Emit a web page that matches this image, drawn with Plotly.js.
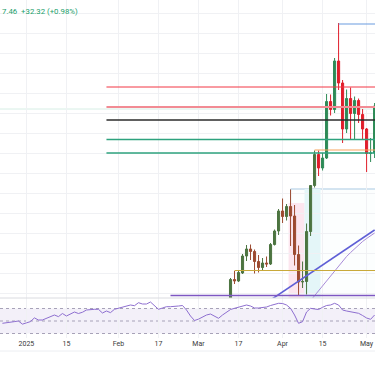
<!DOCTYPE html>
<html><head><meta charset="utf-8">
<script src="https://cdn.plot.ly/plotly-3.0.1.min.js"></script>
<style>html,body{margin:0;padding:0;background:#fff;overflow:hidden}#chart{width:375px;height:366px}</style>
</head><body><div id="chart"></div>
<script>
// trading days shown on the time axis
const dates = [
'2024-12-20','2024-12-23','2024-12-24','2024-12-26','2024-12-27','2024-12-30','2024-12-31',
'2025-01-02','2025-01-03','2025-01-06','2025-01-07','2025-01-08','2025-01-09','2025-01-10','2025-01-13','2025-01-14','2025-01-15','2025-01-16','2025-01-17','2025-01-20','2025-01-21','2025-01-22','2025-01-23','2025-01-24','2025-01-27','2025-01-28','2025-01-29','2025-01-30','2025-01-31',
'2025-02-03','2025-02-04','2025-02-05','2025-02-06','2025-02-07','2025-02-10','2025-02-11','2025-02-12','2025-02-13','2025-02-14','2025-02-17','2025-02-18','2025-02-19','2025-02-20','2025-02-21','2025-02-24','2025-02-25','2025-02-26','2025-02-27','2025-02-28',
'2025-03-03','2025-03-04','2025-03-05','2025-03-06','2025-03-07','2025-03-10','2025-03-11','2025-03-12','2025-03-13','2025-03-14','2025-03-17','2025-03-18','2025-03-19','2025-03-20','2025-03-21','2025-03-24','2025-03-25','2025-03-26','2025-03-27','2025-03-28','2025-03-31',
'2025-04-01','2025-04-02','2025-04-03','2025-04-04','2025-04-07','2025-04-08','2025-04-09','2025-04-10','2025-04-11','2025-04-14','2025-04-15','2025-04-16','2025-04-17','2025-04-21','2025-04-22','2025-04-23','2025-04-24','2025-04-25','2025-04-28','2025-04-29','2025-04-30',
'2025-05-01','2025-05-02','2025-05-05'];

// RSI(14)
const rsi = [
46.3,46.8,47.6,49,50,45,47,49,55,51.6,
51.6,54,57,59.6,57,62,58,61,64.4,62,
64,67.6,68.7,68.7,68.7,62.8,66,63.4,68.7,70.3,
71.6,74,75.6,74.5,79.3,77.2,77.2,80.4,74,68.7,
70.8,72.9,72.9,72.9,74,74.8,67.6,58,50.8,53,
56.9,59.6,61.2,58,54.3,59.6,64.4,68.4,70.3,72.4,
74,75.6,74,70.8,70.8,71.9,72.4,74.8,76.7,78.3,
78,75.6,70.3,59.6,46.3,48.9,64.4,70.3,69.2,68.4,
71.9,74.8,75.6,78.3,75.6,67.6,66,64.9,64.4,62.3,
58.8,54.8,52.7,59.6];

// daily candles, first leg (Mar 13 - Apr 11)
const candleDatesA = ['2025-03-13','2025-03-14','2025-03-17','2025-03-18','2025-03-19','2025-03-20','2025-03-21','2025-03-24','2025-03-25','2025-03-26','2025-03-27','2025-03-28','2025-03-31',
'2025-04-01','2025-04-02','2025-04-03','2025-04-04','2025-04-07','2025-04-08','2025-04-09','2025-04-10','2025-04-11'];
const openA  = [2934,2987,2984,3000,3034,3048,3043,3023,3011,3020,3018,3057,3084, 3124,3113,3133,3114,3037,2982,2983,3083,3175];
const highA  = [2990,3004,3004,3038,3056,3057,3047,3036,3030,3033,3060,3087,3128, 3149,3138,3167,3136,3055,3023,3099,3176,3245];
const lowA   = [2930,2978,2982,2998,3024,3026,2999,3001,3005,3012,3016,3055,3076, 3100,3105,3054,3015,2956,2970,2957,3074,3171];
const closeA = [2987,2984,3001,3034,3048,3043,3023,3011,3020,3018,3057,3084,3124, 3113,3133,3114,3037,2982,2983,3083,3175,3237];
// daily candles, second leg (Apr 14 - May 5)
const candleDatesB = ['2025-04-14','2025-04-15','2025-04-16','2025-04-17','2025-04-21','2025-04-22','2025-04-23','2025-04-24','2025-04-25','2025-04-28','2025-04-29','2025-04-30','2025-05-01','2025-05-02','2025-05-05'];
const openB  = [3237,3210,3230,3343,3327,3424,3380,3288,3349,3319,3345,3317,3288,3239,3240];
const highB  = [3245,3240,3358,3357,3430,3500,3386,3367,3371,3353,3349,3328,3290,3270,3340];
const lowB   = [3194,3205,3228,3315,3320,3366,3260,3280,3266,3268,3300,3268,3202,3222,3230];
const closeB = [3210,3230,3343,3327,3424,3380,3288,3349,3319,3345,3317,3288,3239,3240,3334];

// moving average
const maDates = ['2025-04-09','2025-04-10','2025-04-11','2025-04-14','2025-04-15','2025-04-16','2025-04-17','2025-04-21','2025-04-22','2025-04-23','2025-04-24','2025-04-25','2025-04-28','2025-04-29','2025-04-30','2025-05-01','2025-05-02','2025-05-05'];
const maValues = [2935,2945,2955,2965,2975,2983,2993,3003,3014,3024,3033,3041,3049,3057,3063,3069,3075,3080];

// trend line
const trendDates = ['2025-03-27','2025-05-05'];
const trendValues = [2946,3086];

// horizontal levels (price, start date)
const levelPrices = [3498,3372,3332,3306,3267,3240,3246,3005,2955];
const levelStarts = ['2025-04-22','2025-01-29','2025-01-29','2025-01-29','2025-01-29','2025-01-29','2025-04-11','2025-03-14','2025-02-20'];
const levelColors = ['#6b9be0','#f23645','#f28b94','#2b2b2b','#2ea27e','#2ea27e','#f7a35c','#c9a93a','#7e57c2'];
const levelWidths = [1.2,1,2,1.5,1.5,1.5,1.2,1.2,1.5];
const faintLevel = 3328;
const boxTop = 3168, boxStart = '2025-04-03';
const pinkZone = ['2025-04-03','2025-04-08', 3140];
const cyanZone = ['2025-04-09','2025-04-14', 3168];

const tickDates = ['2024-12-31','2025-01-15','2025-02-03','2025-02-17','2025-03-03','2025-03-17','2025-04-01','2025-04-15','2025-05-01'];
const tickLabels = ['2025','15','Feb','17','Mar','17','Apr','15','May'];

const idx = d => dates.indexOf(d);
const farRight = dates.length + 3;

const shapes = [];
// zones
shapes.push({type:'rect',xref:'x',yref:'y',x0:idx(boxStart),x1:farRight,y0:2900,y1:boxTop,fillcolor:'rgba(230,245,250,0.12)',line:{color:'#a9c9e2',width:1},layer:'below'});
shapes.push({type:'rect',xref:'x',yref:'y',x0:idx(pinkZone[0])-0.5,x1:idx(pinkZone[1])+0.5,y0:2900,y1:pinkZone[2],fillcolor:'#fce6ef',line:{width:0},layer:'below'});
shapes.push({type:'rect',xref:'x',yref:'y',x0:idx(cyanZone[0])-0.5,x1:idx(cyanZone[1])+0.5,y0:2900,y1:cyanZone[2],fillcolor:'#e4f6f8',line:{width:0},layer:'below'});
// faint full-width line
shapes.push({type:'line',xref:'paper',yref:'y',x0:0,x1:1,y0:faintLevel,y1:faintLevel,line:{color:'#d6eee5',width:1},layer:'below'});
levelPrices.forEach((p,i)=>{
  shapes.push({type:'line',xref:'x',yref:'y',x0:idx(levelStarts[i]),x1:farRight,y0:p,y1:p,line:{color:levelColors[i],width:levelWidths[i]},layer:'above'});
});
// RSI band and levels
shapes.push({type:'rect',xref:'paper',yref:'y2',x0:0,x1:1,y0:30,y1:70,fillcolor:'rgba(126,87,194,0.09)',line:{width:0},layer:'below'});
[70,50,30].forEach(v=>shapes.push({type:'line',xref:'paper',yref:'y2',x0:0,x1:1,y0:v,y1:v,line:{color:'#a7a2b8',width:1,dash:'3px,3px'},layer:'below'}));
// pane separator and bottom border
shapes.push({type:'line',xref:'paper',yref:'paper',x0:0,x1:1,y0:40/338,y1:40/338,line:{color:'#dadbe0',width:1}});
shapes.push({type:'line',xref:'paper',yref:'paper',x0:0,x1:1,y0:-13/338,y1:-13/338,line:{color:'#eceef2',width:1}});

const data = [
  {type:'scatter',mode:'lines',x:dates,y:rsi,xaxis:'x',yaxis:'y2',line:{color:'#8e6fd0',width:1},hoverinfo:'skip'},
  {type:'candlestick',x:candleDatesA,open:openA,high:highA,low:lowA,close:closeA,xaxis:'x',yaxis:'y',
   increasing:{line:{color:'#4c7440',width:1},fillcolor:'#4c7440'},
   decreasing:{line:{color:'#9c4a30',width:1},fillcolor:'#9c4a30'},hoverinfo:'skip'},
  {type:'candlestick',x:candleDatesB,open:openB,high:highB,low:lowB,close:closeB,xaxis:'x',yaxis:'y',
   increasing:{line:{color:'#2e8b57',width:1},fillcolor:'#2e8b57'},
   decreasing:{line:{color:'#e01e2b',width:1},fillcolor:'#e01e2b'},hoverinfo:'skip'},
  {type:'scatter',mode:'lines',x:maDates,y:maValues,xaxis:'x',yaxis:'y',line:{color:'#a88bd8',width:1},hoverinfo:'skip'},
  {type:'scatter',mode:'lines',x:trendDates,y:trendValues,xaxis:'x',yaxis:'y',line:{color:'#5f5fd6',width:1.6},hoverinfo:'skip'}
];

const layout = {
  width:375,height:366,
  margin:{l:0,r:0,t:0,b:28,pad:0},
  paper_bgcolor:'#ffffff',plot_bgcolor:'#ffffff',
  showlegend:false,
  boxgap:0.25,
  xaxis:{type:'category',categoryorder:'array',categoryarray:dates,range:[-0.6,93.1],anchor:'y2',
    tickmode:'array',tickvals:tickDates,ticktext:tickLabels,tickfont:{size:7,color:'#3a3a3a',family:'Roboto'},
    showgrid:true,gridcolor:'#f0f1f4',gridwidth:1,ticks:'',showline:false,zeroline:false,
    rangeslider:{visible:false},fixedrange:true},
  yaxis:{domain:[40/338,1],range:[2950,3546],tick0:0,dtick:40,showticklabels:false,showgrid:true,gridcolor:'#f0f1f4',zeroline:false,ticks:'',fixedrange:true},
  yaxis2:{domain:[0,40/338],range:[22.8,86.8],showgrid:false,showticklabels:false,zeroline:false,ticks:'',fixedrange:true},
  shapes:shapes,
  annotations:[{xref:'paper',yref:'paper',x:0,y:1-11/338,xanchor:'left',yanchor:'middle',showarrow:false,
    text:'7.46  +32.32 (+0.98%)',font:{size:7.8,color:'#22a06b',family:'Roboto'}}]
};

Plotly.newPlot('chart',data,layout,{displayModeBar:false,staticPlot:true});
</script>
</body></html>
